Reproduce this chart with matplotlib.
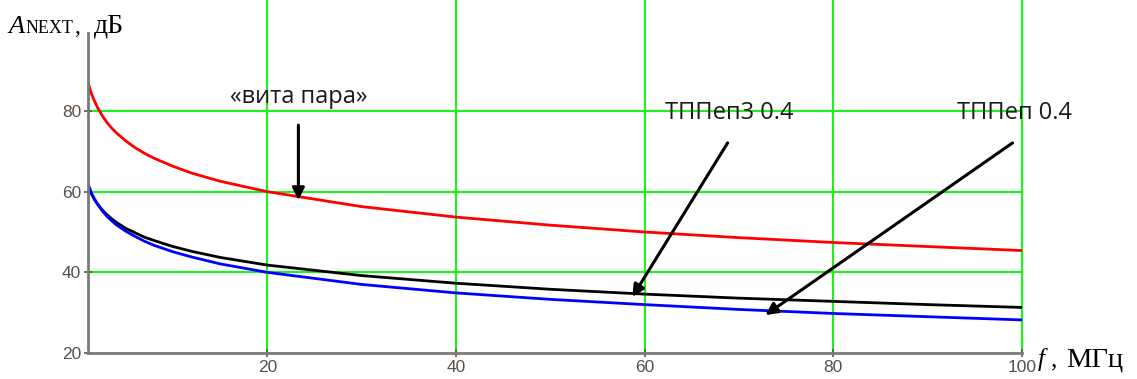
import matplotlib
matplotlib.use("Agg")
import matplotlib.pyplot as plt

# ---- data ----
freq_mhz = [1, 1.2, 1.4, 1.7, 2, 2.5, 3, 3.5, 4, 5, 6, 7, 8, 10, 12, 15, 20,
            30, 40, 50, 60, 70, 80, 90, 100]
a_twisted_pair = [87.2, 85.5, 84.1, 82.4, 80.9, 78.9, 77.2, 75.8, 74.6, 72.6,
                  70.9, 69.5, 68.3, 66.3, 64.6, 62.6, 60.0,
                  56.3, 53.7, 51.7, 50.0, 48.6, 47.4, 46.4, 45.4]
a_tppep3 = [61.5, 60.3, 59.3, 58.0, 57.0, 55.5, 54.3, 53.3, 52.4, 50.9,
            49.8, 48.7, 47.9, 46.4, 45.2, 43.7, 41.8,
            39.2, 37.3, 35.8, 34.6, 33.6, 32.8, 32.0, 31.3]
a_tppep = [62.0, 60.7, 59.5, 58.1, 56.9, 55.3, 53.9, 52.8, 51.8, 50.2,
           48.9, 47.7, 46.7, 45.1, 43.8, 42.1, 40.0,
           37.0, 34.9, 33.3, 32.0, 30.8, 29.8, 29.0, 28.2]
x_ticks = [20, 40, 60, 80, 100]
y_ticks = [20, 40, 60, 80]
label_twisted = "«вита пара»"
label_tppep3 = "ТППеп3 0.4"
label_tppep = "ТППеп 0.4"

W, H = 1137, 379
fig = plt.figure(figsize=(W / 100, H / 100), dpi=100)

def fpx(x, y):
    return (x / W, 1 - y / H)

ax_left, ax_right, ax_bottom, ax_top = 88, 1022, 353, 0
ax = fig.add_axes([ax_left / W, 1 - ax_bottom / H, (ax_right - ax_left) / W, (ax_bottom - ax_top) / H])
ymax = 20 + (ax_bottom - ax_top) / 4.033
ax.set_xlim(1, 100)
ax.set_ylim(20, ymax)

grid_c = '#22ee22'
for xv in x_ticks:
    ax.axvline(xv, color=grid_c, lw=1.6, zorder=1, clip_on=False)
for yv in y_ticks[1:]:
    ax.axhline(yv, color=grid_c, lw=1.6, zorder=1)

ax.plot(freq_mhz, a_twisted_pair, color='#ff0000', lw=2, zorder=3)
ax.plot(freq_mhz, a_tppep3, color='#000000', lw=2, zorder=3)
ax.plot(freq_mhz, a_tppep, color='#0000ff', lw=2, zorder=3)

for s in ['top', 'right']:
    ax.spines[s].set_visible(False)
for s in ['left', 'bottom']:
    ax.spines[s].set_color('#7a7a7a')
    ax.spines[s].set_linewidth(2)
ax.spines['left'].set_bounds(20, 20 + (353 - 33) / 4.033)
ax.spines['left'].set_zorder(4)

ax.set_xticks(x_ticks)
ax.set_yticks(y_ticks)
ax.tick_params(direction='inout', length=6, width=1.2, color='#555555',
               labelsize=12.5, labelcolor='#5b5048', pad=2)
for lbl in ax.get_xticklabels() + ax.get_yticklabels():
    lbl.set_family('Liberation Sans')

ann_font = dict(family='Open Sans', fontsize=17, color='#1a1a1a')
ax.text(23.3, 83.5, label_twisted, ha='center', va='center', **ann_font)
ax.text(69.0, 79.4, label_tppep3, ha='center', va='center', **ann_font)
ax.text(99.2, 79.4, label_tppep, ha='center', va='center', **ann_font)

arrow = dict(arrowstyle='-|>', color='black', lw=2.2, mutation_scale=18, shrinkA=0, shrinkB=0)
ax.annotate('', xy=(23.3, 57.9), xytext=(23.3, 76.5), arrowprops=arrow, annotation_clip=False)
ax.annotate('', xy=(58.7, 33.9), xytext=(68.8, 72.1), arrowprops=arrow, annotation_clip=False)
ax.annotate('', xy=(72.8, 29.4), xytext=(99.0, 72.1), arrowprops=arrow, annotation_clip=False)

# axis titles
serif = 'Liberation Serif'
fig.text(*fpx(8, 33), 'A', family=serif, style='italic', fontsize=19, va='baseline', ha='left')
fig.text(*fpx(26, 33), 'NEXT', family=serif, fontsize=13, va='baseline', ha='left')
fig.text(*fpx(74, 33), ',', family=serif, fontsize=17, va='baseline', ha='left')
fig.text(*fpx(94, 33), 'дБ', family=serif, fontsize=20, va='baseline', ha='left')
fig.text(*fpx(1038, 366), 'f', family=serif, style='italic', fontsize=18, va='baseline', ha='left')
fig.text(*fpx(1051, 366), ',', family=serif, fontsize=18, va='baseline', ha='left')
fig.text(*fpx(1066, 366), 'МГц', family=serif, fontsize=20.5, va='baseline', ha='left')

fig.savefig('out.png', dpi=100)
